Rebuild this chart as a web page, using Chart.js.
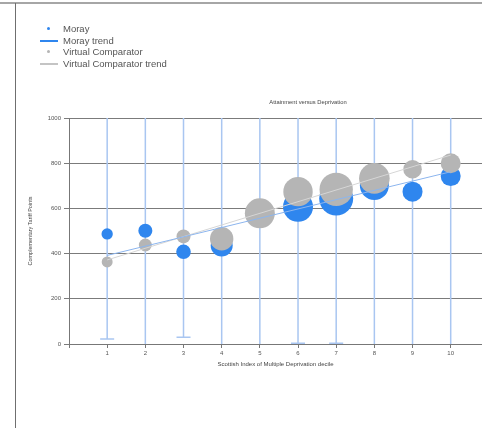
<!DOCTYPE html>
<html>
<head>
<meta charset="utf-8">
<script src="https://cdn.jsdelivr.net/npm/chart.js@4.4.1/dist/chart.umd.min.js"></script>
<style>
  html, body { margin: 0; padding: 0; background: #fff; }
  body { width: 482px; height: 428px; position: relative; overflow: hidden; font-family: Arial, "Liberation Sans", sans-serif; }
  #frameTop { position: absolute; left: 0; top: 2px; width: 482px; height: 2px; background: #a6a6a6; }
  #frameLeft { position: absolute; left: 15px; top: 3px; width: 1px; height: 425px; background: #6f6f6f; }
  #chartWrap { position: absolute; left: 0; top: 0; width: 482px; height: 428px; }
  #legend { position: absolute; left: 40px; top: 23px; font-size: 9.5px; color: #555; line-height: 11.6px; }
  .item { display: flex; align-items: center; height: 11.6px; }
  .mark { width: 18px; height: 8px; position: relative; margin-right: 5px; }
  .dot { position: absolute; left: 7px; top: 2.5px; width: 3px; height: 3px; border-radius: 50%; }
  .line { position: absolute; left: 0; top: 3.5px; width: 18px; height: 2px; }
  #title { position: absolute; left: 0; width: 616px; top: 99px; text-align: center; font-size: 5.8px; color: #444; }
</style>
</head>
<body>
<div id="frameTop"></div>
<div id="frameLeft"></div>
<div id="chartWrap"><canvas id="myChart" width="482" height="428"></canvas></div>
<div id="legend"></div>
<div id="title">Attainment versus Deprivation</div>
<script>
// SIMD deciles on the x axis
const deciles = [1, 2, 3, 4, 5, 6, 7, 8, 9, 10];
const yTicks = [0, 200, 400, 600, 800, 1000];

// Moray: average tariff points, pupil numbers and confidence range
const morayPoints = [487, 501, 408, 436, 575, 607, 644, 701, 674, 743];
const morayPupils = [32, 49, 53, 121, 100, 225, 289, 210, 100, 100];
const morayLow = [22, -60, 30, -60, -60, 3, 3, -60, -60, -60];
const morayHigh = [1150, 1150, 1150, 1150, 1150, 1150, 1150, 1150, 1150, 1150];

// Virtual comparator
const vcPoints = [363, 438, 476, 466, 578, 674, 684, 733, 773, 800];
const vcPupils = [30, 42, 49, 137, 225, 216, 279, 234, 86, 100];

// trend lines, end points at decile 1 and decile 10
const trendX = [1, 10];
const morayTrend = [392, 762];
const vcTrend = [372, 836];

const BLUE = '#2f86ee';
const GREY = '#b5b5b5';

function bubbles(values, pupils) {
    return deciles.map((d, i) => ({ x: d, y: values[i], r: Math.sqrt(pupils[i]) }));
}
function trend(values) {
    return trendX.map((d, i) => ({ x: d, y: values[i] }));
}

// whiskers behind the bubbles, caps at the lower end
const errorBars = {
    id: 'errorBars',
    beforeDatasetsDraw(chart) {
        const { ctx, chartArea, scales } = chart;
        ctx.save();
        ctx.beginPath();
        ctx.rect(chartArea.left, chartArea.top, chartArea.width, chartArea.height);
        ctx.clip();
        ctx.strokeStyle = '#a9c6f1';
        ctx.lineWidth = 1.5;
        deciles.forEach((d, i) => {
            const px = scales.x.getPixelForValue(d);
            const lo = scales.y.getPixelForValue(morayLow[i]);
            const hi = scales.y.getPixelForValue(morayHigh[i]);
            ctx.beginPath();
            ctx.moveTo(px, lo);
            ctx.lineTo(px, hi);
            ctx.moveTo(px - 7, lo);
            ctx.lineTo(px + 7, lo);
            ctx.moveTo(px - 7, hi);
            ctx.lineTo(px + 7, hi);
            ctx.stroke();
        });
        ctx.restore();
    }
};

const smallFont = { family: 'Arial', size: 6 };

const ctx = document.getElementById('myChart').getContext('2d');
const myChart = new Chart(ctx, {
    type: 'bubble',
    data: {
        datasets: [
            {
                label: 'Moray',
                data: bubbles(morayPoints, morayPupils),
                backgroundColor: BLUE,
                borderWidth: 0,
                order: 2
            },
            {
                type: 'line',
                label: 'Moray trend',
                data: trend(morayTrend),
                borderColor: '#8cb5ee',
                borderWidth: 1,
                pointRadius: 0,
                order: 0
            },
            {
                label: 'Virtual Comparator',
                data: bubbles(vcPoints, vcPupils),
                backgroundColor: GREY,
                borderWidth: 0,
                order: 1
            },
            {
                type: 'line',
                label: 'Virtual Comparator trend',
                data: trend(vcTrend),
                borderColor: '#d6d6d6',
                borderWidth: 1,
                pointRadius: 0,
                order: 0
            }
        ]
    },
    options: {
        responsive: false,
        animation: false,
        layout: { autoPadding: false, padding: { left: 22, top: 118, right: 0, bottom: 60 } },
        plugins: {
            legend: { display: false },
            tooltip: { enabled: false }
        },
        scales: {
            x: {
                type: 'linear',
                min: 0,
                max: 10.82,
                afterFit: (scale) => {
                    scale.height = 24;
                    scale.paddingLeft = 0;
                    scale.paddingRight = 0;
                },
                grid: { drawOnChartArea: false, drawTicks: true, tickLength: 4, color: '#777' },
                border: { color: '#777' },
                ticks: {
                    stepSize: 1,
                    includeBounds: false,
                    padding: 2,
                    color: '#555',
                    font: smallFont,
                    maxRotation: 0,
                    callback: (v) => (v === 0 ? '' : String(v))
                },
                title: {
                    display: true,
                    text: 'Scottish Index of Multiple Deprivation decile',
                    color: '#444',
                    font: smallFont,
                    padding: { top: 0, bottom: 0 }
                }
            },
            y: {
                min: yTicks[0],
                max: yTicks[yTicks.length - 1],
                afterFit: (scale) => {
                    scale.width = 47;
                    scale.paddingTop = 0;
                    scale.paddingBottom = 0;
                },
                afterBuildTicks: (scale) => { scale.ticks = yTicks.map(v => ({ value: v })); },
                grid: { color: '#7b7b7b', lineWidth: 1, tickLength: 5 },
                border: { color: '#777' },
                ticks: { padding: 3, color: '#555', font: smallFont, callback: (v) => String(v) },
                title: {
                    display: true,
                    text: 'Complementary Tariff Points',
                    color: '#444',
                    font: { family: 'Arial', size: 5.5 },
                    padding: { top: 5, bottom: 0 }
                }
            }
        }
    },
    plugins: [errorBars]
});

// legend built from the datasets
const legend = document.getElementById('legend');
myChart.data.datasets.forEach(ds => {
    const row = document.createElement('div');
    row.className = 'item';
    const mark = document.createElement('div');
    mark.className = 'mark';
    const sym = document.createElement('div');
    if (ds.type === 'line') {
        sym.className = 'line';
        sym.style.background = ds.label.startsWith('Moray') ? BLUE : '#c4c4c4';
    } else {
        sym.className = 'dot';
        sym.style.background = ds.backgroundColor;
    }
    mark.appendChild(sym);
    row.appendChild(mark);
    const txt = document.createElement('span');
    txt.textContent = ds.label;
    row.appendChild(txt);
    legend.appendChild(row);
});
</script>
</body>
</html>
